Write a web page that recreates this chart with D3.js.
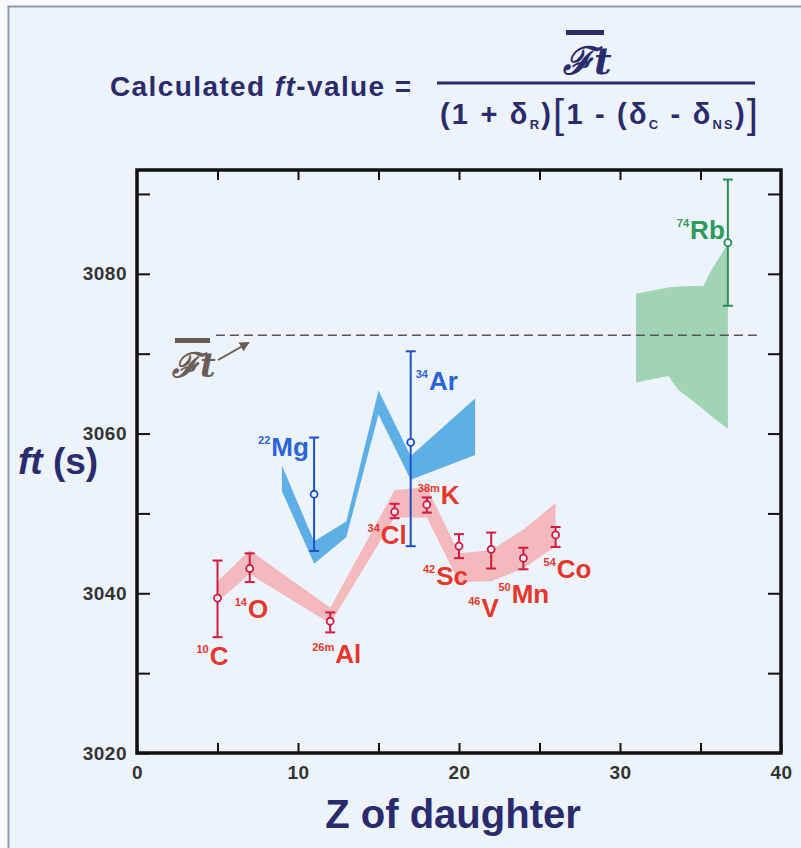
<!DOCTYPE html>
<meta charset="utf-8">
<style>
body { margin: 0; padding: 0; background: #f7f9fc; }
svg text { font-family: "Liberation Sans", Arial, sans-serif; font-weight: bold; }
.navy { fill: #2a2b6c; }
.tick text { font-family: "Liberation Sans Narrow", "Liberation Sans", sans-serif; font-size: 19px; fill: #333; }
</style>
<body>
<div id="chart"></div>
<script src="https://cdn.jsdelivr.net/npm/d3@7/dist/d3.min.js"></script>
<script>
// ---- data ----
var redMass  = ["10", "14", "26m", "34", "38m", "42", "46", "50", "54"];
var redElem  = ["C", "O", "Al", "Cl", "K", "Sc", "V", "Mn", "Co"];
var redZ     = [5, 7, 12, 16, 18, 20, 22, 24, 26];
var redFt    = [3039.4, 3043.1, 3036.5, 3050.2, 3051.1, 3045.9, 3045.5, 3044.4, 3047.3];
var redErrHi = [3044.1, 3045.0, 3037.6, 3051.2, 3052.0, 3047.4, 3047.6, 3045.7, 3048.3];
var redErrLo = [3034.5, 3041.4, 3035.1, 3049.4, 3050.1, 3044.4, 3043.1, 3043.0, 3045.8];

var blueMass  = ["22", "34"];
var blueElem  = ["Mg", "Ar"];
var blueZ     = [11, 17];
var blueFt    = [3052.4, 3058.9];
var blueErrHi = [3059.5, 3070.3];
var blueErrLo = [3045.3, 3045.9];

var greenMass  = ["74"];
var greenElem  = ["Rb"];
var greenZ     = [36.7];
var greenFt    = [3083.9];
var greenErrHi = [3091.8];
var greenErrLo = [3076.0];

// calculated ft bands (lower / upper edge)
var redBandZ  = [5, 7, 12, 16, 18, 20, 22, 24, 26];
var redBandLo = [3038.9, 3042.4, 3036.2, 3049.5, 3049.5, 3041.4, 3041.5, 3043.1, 3045.9];
var redBandHi = [3041.5, 3045.4, 3038.2, 3052.9, 3053.3, 3045.0, 3045.4, 3048.0, 3051.3];

var blueBandZ  = [9, 11, 13, 15, 17, 21];
var blueBandLo = [3052.8, 3043.7, 3047.0, 3062.4, 3054.2, 3057.3];
var blueBandHi = [3056.0, 3046.5, 3049.0, 3065.4, 3057.2, 3064.4];

var greenBandZ  = [31, 33, 33.6, 35.2, 35.6, 36.7];
var greenBandLo = [3066.4, 3067.2, 3065.5, 3063.0, 3062.3, 3060.6];
var greenBandHi = [3077.5, 3078.3, 3078.4, 3078.5, 3080.2, 3083.8];

var ftBar = 3072.3;            // average Ft (dashed line)
var ftBarZ = [4.9, 38.5];

var xTicks = [0, 5, 10, 15, 20, 25, 30, 35, 40];
var yTicks = [3020, 3030, 3040, 3050, 3060, 3070, 3080, 3090];

// ---- label placement (layout only) ----
var redLabelOff = [[-21, 67], [-15, 49], [-18, 42], [-27, 32], [-9, -1], [-36, 39], [-23, 68], [-25, 45], [-12, 43]];
var blueLabelOff = [[-56, -38], [5, -52]];
var greenLabelOff = [[-51, -4]];

var W = 801, H = 848;
var svg = d3.select("#chart").append("svg")
    .attr("width", W)
    .attr("height", H);

// slide background and frame
svg.append("rect")
    .attr("x", 8.5).attr("y", 6.5)
    .attr("width", W + 10).attr("height", H + 10)
    .attr("fill", "#edf3fb")
    .attr("stroke", "#8e9cac")
    .attr("stroke-width", 2);

var x = d3.scaleLinear().domain([0, 40]).range([137, 781]);
var y = d3.scaleLinear().domain([3020, 3093]).range([753, 170]);

// bands
var area = d3.area()
    .x(function(d) { return x(d[0]); })
    .y0(function(d) { return y(d[1]); })
    .y1(function(d) { return y(d[2]); });

function band(zs, lo, hi, color) {
  svg.append("path")
      .datum(zs.map(function(z, i) { return [z, lo[i], hi[i]]; }))
      .attr("d", area)
      .attr("fill", color);
}
band(redBandZ, redBandLo, redBandHi, "#f3b9bd");
band(blueBandZ, blueBandLo, blueBandHi, "#5eafe5");
band(greenBandZ, greenBandLo, greenBandHi, "#a1d3b5");

// dashed average line
svg.append("line")
    .attr("x1", x(ftBarZ[0])).attr("x2", x(ftBarZ[1]))
    .attr("y1", y(ftBar)).attr("y2", y(ftBar))
    .attr("stroke", "#555")
    .attr("stroke-width", 1.5)
    .attr("stroke-dasharray", "9,5");

// Ft symbol with arrow pointing at the dashed line
var defs = svg.append("defs");
defs.append("marker")
    .attr("id", "arr")
    .attr("viewBox", "0 0 10 10")
    .attr("refX", 8).attr("refY", 5)
    .attr("markerWidth", 5).attr("markerHeight", 5)
    .attr("orient", "auto")
  .append("path")
    .attr("d", "M0,0L10,5L0,10z")
    .attr("fill", "#6b5b57");

svg.append("line")
    .attr("x1", 218).attr("y1", 360)
    .attr("x2", 248).attr("y2", 343)
    .attr("stroke", "#6b5b57")
    .attr("stroke-width", 2)
    .attr("marker-end", "url(#arr)");
svg.append("rect")
    .attr("x", 175).attr("y", 338).attr("width", 35).attr("height", 5)
    .attr("fill", "#6b5b57");
svg.append("text")
    .attr("x", 172).attr("y", 377)
    .attr("fill", "#6b5b57")
    .style("font-family", "'DejaVu Serif', serif")
    .style("font-style", "italic")
    .style("font-size", "34px")
    .text("ℱt");

// axes (ticks pointing inwards, mirrored on top and right)
function styleAxis(g) {
  g.select(".domain").remove();
  g.selectAll(".tick line").attr("stroke", "#111").attr("stroke-width", 2);
}
svg.append("g")
    .attr("transform", "translate(0," + y(3020) + ")")
    .call(d3.axisBottom(x).tickValues(xTicks).tickSizeInner(-10).tickSizeOuter(0).tickPadding(13)
      .tickFormat(function(d) { return d % 10 === 0 ? d : ""; }))
    .call(styleAxis);
svg.append("g")
    .attr("transform", "translate(0," + y(3093) + ")")
    .call(d3.axisTop(x).tickValues(xTicks.slice(1, -1)).tickSizeInner(-10).tickFormat(""))
    .call(styleAxis);
svg.append("g")
    .attr("transform", "translate(" + x(0) + ",0)")
    .call(d3.axisLeft(y).tickValues(yTicks).tickSizeInner(-13).tickSizeOuter(0).tickPadding(10)
      .tickFormat(function(d) { return d % 20 === 0 ? d : ""; }))
    .call(styleAxis);
svg.append("g")
    .attr("transform", "translate(" + x(40) + ",0)")
    .call(d3.axisRight(y).tickValues(yTicks.slice(1)).tickSizeInner(-13).tickFormat(""))
    .call(styleAxis);

svg.selectAll(".tick text").style("letter-spacing", "0.5px");

// plot frame
svg.append("rect")
    .attr("x", x(0)).attr("y", y(3093))
    .attr("width", x(40) - x(0)).attr("height", y(3020) - y(3093))
    .attr("fill", "none")
    .attr("stroke", "#111")
    .attr("stroke-width", 3.5);

// error bars, points and labels
function series(zs, ft, hi, lo, mass, elem, off, col, labCol) {
  var g = svg.append("g");
  zs.forEach(function(z, i) {
    var cx = x(z);
    g.append("line")
        .attr("x1", cx).attr("x2", cx)
        .attr("y1", y(hi[i])).attr("y2", y(lo[i]))
        .attr("stroke", col).attr("stroke-width", 2);
    [hi[i], lo[i]].forEach(function(v) {
      g.append("line")
          .attr("x1", cx - 5).attr("x2", cx + 5)
          .attr("y1", y(v)).attr("y2", y(v))
          .attr("stroke", col).attr("stroke-width", 2);
    });
    g.append("circle")
        .attr("cx", cx).attr("cy", y(ft[i]))
        .attr("r", 3.5)
        .attr("fill", "#edf3fb")
        .attr("stroke", col).attr("stroke-width", 1.8);
    var t = g.append("text")
        .attr("x", cx + off[i][0])
        .attr("y", y(ft[i]) + off[i][1])
        .attr("fill", labCol);
    t.append("tspan")
        .attr("dy", -12)
        .style("font-size", "11px")
        .text(mass[i]);
    t.append("tspan")
        .attr("dy", 12)
        .attr("dx", 1)
        .style("font-size", "26px")
        .text(elem[i]);
  });
}
series(redZ, redFt, redErrHi, redErrLo, redMass, redElem, redLabelOff, "#d11a3f", "#e5372c");
series(blueZ, blueFt, blueErrHi, blueErrLo, blueMass, blueElem, blueLabelOff, "#1f4fc8", "#2b64d6");
series(greenZ, greenFt, greenErrHi, greenErrLo, greenMass, greenElem, greenLabelOff, "#2b8a55", "#2f9a5c");

// axis titles
var yt = svg.append("text").attr("class", "navy")
    .attr("x", 18).attr("y", 474)
    .style("font-size", "37px");
yt.append("tspan").style("font-style", "italic").text("ft");
yt.append("tspan").text(" (s)");

svg.append("text").attr("class", "navy")
    .attr("x", 453).attr("y", 828)
    .attr("text-anchor", "middle")
    .style("font-size", "40px")
    .text("Z of daughter");

// formula at the top
var tt = svg.append("text").attr("class", "navy")
    .attr("x", 110).attr("y", 96)
    .style("font-size", "28px")
    .style("letter-spacing", "1.4px");
tt.append("tspan").text("Calculated ");
tt.append("tspan").style("font-style", "italic").text("ft");
tt.append("tspan").text("-value =");

svg.append("line")
    .attr("x1", 437).attr("x2", 755)
    .attr("y1", 83).attr("y2", 83)
    .attr("stroke", "#2a2b6c").attr("stroke-width", 3);

svg.append("rect")
    .attr("x", 566).attr("y", 30).attr("width", 38).attr("height", 5)
    .attr("fill", "#2a2b6c");
svg.append("text").attr("class", "navy")
    .attr("x", 563).attr("y", 74)
    .style("font-family", "'DejaVu Serif', serif")
    .style("font-style", "italic")
    .style("font-size", "38px")
    .text("ℱt");

var den = svg.append("text").attr("class", "navy")
    .attr("x", 440).attr("y", 124)
    .style("font-size", "29px")
    .style("letter-spacing", "2.2px");
den.append("tspan").text("(1 + δ");
den.append("tspan").attr("dy", 5).style("font-size", "13px").text("R");
den.append("tspan").attr("dy", -5).text(")");
den.append("tspan").style("font-size", "40px").style("font-weight", "normal").attr("dy", 4).text("[");
den.append("tspan").attr("dy", -4).text("1 - (δ");
den.append("tspan").attr("dy", 5).style("font-size", "13px").text("C");
den.append("tspan").attr("dy", -5).text(" - δ");
den.append("tspan").attr("dy", 5).style("font-size", "13px").text("NS");
den.append("tspan").attr("dy", -5).text(")");
den.append("tspan").style("font-size", "40px").style("font-weight", "normal").attr("dy", 4).text("]");
</script>
</body>
